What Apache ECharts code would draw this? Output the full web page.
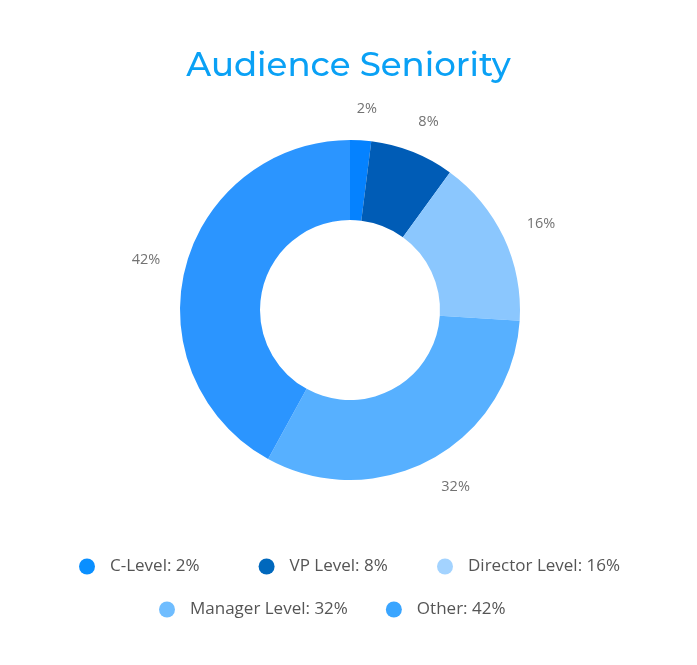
<!DOCTYPE html>
<html>
<head>
    <meta charset="utf-8">
    <title>Audience Seniority</title>
    <script src="https://cdn.jsdelivr.net/npm/echarts@6/dist/echarts.min.js"></script>
    <style>
        html, body { margin: 0; padding: 0; background: #fff; }
        #main { width: 697px; height: 665px; }
    </style>
</head>
<body>
<div id="main"></div>
<script>
    var categories = ['C-Level', 'VP Level', 'Director Level', 'Manager Level', 'Other'];
    var values = [2, 8, 16, 32, 42];
    var sliceColors = ['#0582ff', '#005cb6', '#8bc7fe', '#57b0ff', '#2b95ff'];
    var legendColors = ['#0a8fff', '#0068bd', '#a3d3ff', '#6fbdff', '#3aa5ff'];

    var seriesData = [];
    var legendItems = [];
    for (var i = 0; i < categories.length; i++) {
        seriesData.push({ name: categories[i], value: values[i], itemStyle: { color: sliceColors[i] } });
        legendItems.push({ name: categories[i], itemStyle: { color: legendColors[i] } });
    }

    var legendText = {
        fontFamily: 'Open Sans',
        fontSize: 17,
        color: '#555'
    };
    function legendFormatter(name) {
        return name + ': ' + values[categories.indexOf(name)] + '%';
    }
    // legend rows are laid out as separate blocks, like the original
    function legendBlock(items, left, top, gap) {
        return {
            data: items,
            left: left,
            top: top,
            icon: 'circle',
            itemWidth: 36,
            itemHeight: 16,
            itemGap: gap,
            textStyle: legendText,
            formatter: legendFormatter
        };
    }

    var myChart = echarts.init(document.getElementById('main'));

    var option = {
        animation: false,
        title: {
            text: 'Audience Seniority',
            left: 'center',
            top: 44,
            textStyle: {
                fontFamily: 'Montserrat, Lato, sans-serif',
                fontSize: 34,
                fontWeight: 500,
                color: '#0aa1f5'
            }
        },
        legend: [
            legendBlock(legendItems.slice(0, 2), 74, 553, 59),
            legendBlock(legendItems.slice(2, 3), 432, 553, 0),
            legendBlock(legendItems.slice(3), 154, 596, 38)
        ],
        series: [{
            type: 'pie',
            center: [350, 310],
            radius: [90, 170],
            startAngle: 90,
            clockwise: true,
            avoidLabelOverlap: false,
            data: seriesData,
            label: {
                show: true,
                position: 'outside',
                formatter: '{c}%',
                fontFamily: 'Open Sans',
                fontSize: 14.5,
                color: '#737373',
                distanceToLabelLine: -6
            },
            labelLine: {
                show: false,
                length: 32,
                length2: 0
            },
            emphasis: { disabled: true }
        }]
    };

    myChart.setOption(option);
</script>
</body>
</html>
